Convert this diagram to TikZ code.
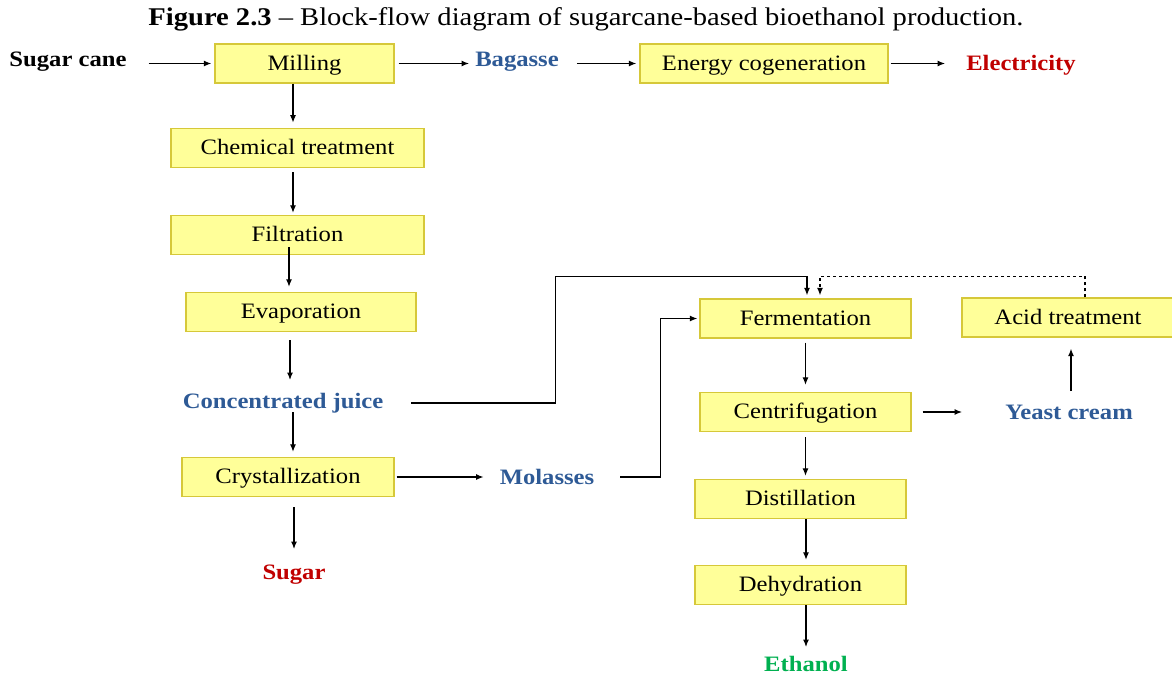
\documentclass[tikz,border=0pt]{standalone}
\usepackage{fontspec}
\setmainfont[FakeStretch=1.12]{Liberation Serif}
\usetikzlibrary{arrows.meta}
\definecolor{boxfill}{HTML}{FFFF99}
\definecolor{boxline}{HTML}{D6C839}
\definecolor{lblue}{HTML}{2E5A96}
\definecolor{lred}{HTML}{C00000}
\definecolor{lgreen}{HTML}{00B050}
\begin{document}
\begin{tikzpicture}[x=1pt,y=-1pt,
 proc/.style={draw=boxline, fill=boxfill, line width=1.3pt, minimum height=39pt, inner sep=0pt, text height=15pt, text depth=2pt, font=\fontsize{22}{26}\selectfont},
 lbl/.style={inner sep=0pt, font=\fontsize{22}{26}\selectfont\bfseries},
 arr/.style={-{Latex[length=7.5pt,width=6pt]}, line width=1.2pt},
]
\useasboundingbox (0,0) rectangle (1172,675);
\node[inner sep=0pt,font=\fontsize{25.5}{30}\selectfont] (title) at (586,19) {\textbf{Figure 2.3} – Block-flow diagram of sugarcane-based bioethanol production.};

% process boxes
\node[proc, minimum width=179pt] (mill) at (304.5,63.5) {Milling};
\node[proc, minimum width=248pt] (energy) at (764,63.5) {Energy cogeneration};
\node[proc, minimum width=253pt] (chem) at (297.5,148) {Chemical treatment};
\node[proc, minimum width=253pt] (filt) at (297.5,235) {Filtration};
\node[proc, minimum width=230pt] (evap) at (301,312) {Evaporation};
\node[proc, minimum width=212pt] (cryst) at (288,477) {Crystallization};
\node[proc, minimum width=211pt] (ferm) at (805.5,318.5) {Fermentation};
\node[proc, minimum width=212pt] (acid) at (1068,317.5) {Acid treatment};
\node[proc, minimum width=211pt] (cent) at (805.5,412) {Centrifugation};
\node[proc, minimum width=211pt] (dist) at (800.5,499) {Distillation};
\node[proc, minimum width=211pt] (dehyd) at (800.5,585) {Dehydration};

% stream labels
\node[lbl] (sc) at (68,62) {Sugar cane};
\node[lbl, text=lblue] (bag) at (517,62) {Bagasse};
\node[lbl, text=lred] (elec) at (1021,65) {Electricity};
\node[lbl, text=lblue] (cj) at (283,403) {Concentrated juice};
\node[lbl, text=lblue] (mol) at (547,477) {Molasses};
\node[lbl, text=lred] (sugar) at (294,575) {Sugar};
\node[lbl, text=lblue] (yeast) at (1069,412) {Yeast cream};
\node[lbl, text=lgreen] (eth) at (806,664) {Ethanol};

% top row
\draw[arr] ([xshift=22]sc.east |- mill.west) -- ([xshift=-3]mill.west);
\draw[arr] ([xshift=4]mill.east) -- ([xshift=-6]bag.west |- mill.east);
\draw[arr] ([xshift=18]bag.east |- energy.west) -- ([xshift=-3]energy.west);
\draw[arr] ([xshift=2]energy.east) -- ([xshift=-21]elec.west |- energy.east);

% left column
\draw[arr] ([xshift=-11.5]mill.south) -- ([xshift=-11.5,yshift=-39]mill.south);
\draw[arr] ([xshift=-4.5,yshift=-4]chem.south) -- ([xshift=-4.5,yshift=2]filt.north);
\draw[arr] ([xshift=-8.5,yshift=8]filt.south) -- ([xshift=-12,yshift=5]evap.north);
\draw[arr] ([xshift=-11,yshift=-8]evap.south) -- ([xshift=7,yshift=23]cj.center);
\draw[arr] ([xshift=10,yshift=-9]cj.center) -- ([xshift=5,yshift=5]cryst.north);
\draw[arr] ([xshift=6,yshift=-10]cryst.south) -- ([yshift=26]sugar.center);
\draw[arr] ([xshift=2]cryst.east) -- ([xshift=-16]mol.west |- cryst.east);

% feeds to fermentation
\draw[arr] ([xshift=28]cj.east) -- ++(144,0) |- ([xshift=1.5,yshift=22]ferm.north) -- ([xshift=1.5,yshift=3]ferm.north);
\draw[arr] ([xshift=26]mol.east |- cryst.east) -- ++(40,0) |- ([xshift=-2]ferm.west);
\draw[arr, dashed] ([xshift=17]acid.north) -- ++(0,-21) -| ([xshift=14.5,yshift=3]ferm.north);

% right column
\draw[arr] ([yshift=-4]ferm.south) -- ([yshift=7]cent.north);
\draw[arr] ([xshift=11]cent.east) -- ([xshift=-43]yeast.west |- cent.east);
\draw[arr] ([xshift=2,yshift=21]yeast.center) -- ([xshift=3,yshift=-11]acid.south);
\draw[arr] ([xshift=0,yshift=-5]cent.south) -- ([xshift=5,yshift=3]dist.north);
\draw[arr] ([xshift=5.5]dist.south) -- ([xshift=5.5,yshift=5]dehyd.north);
\draw[arr] ([xshift=5.5]dehyd.south) -- ([yshift=17]eth.center);
\end{tikzpicture}
\end{document}
